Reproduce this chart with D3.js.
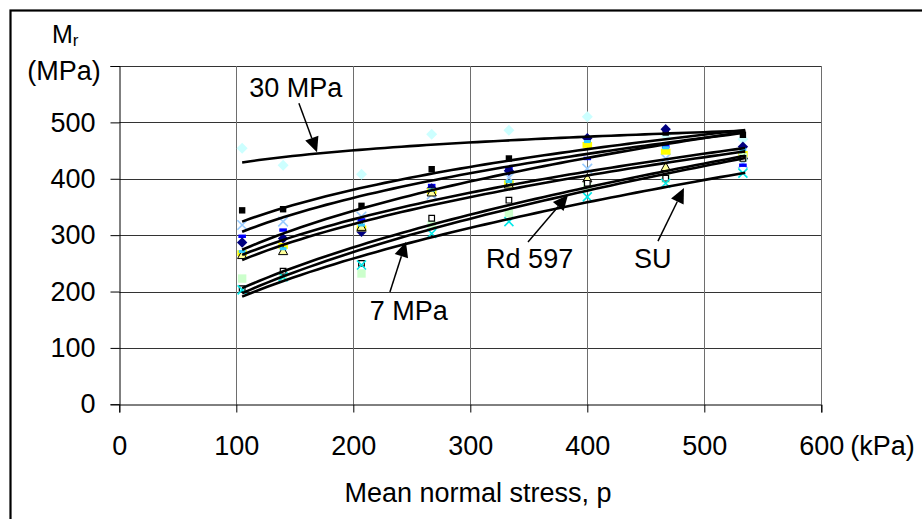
<!DOCTYPE html>
<html>
<head>
<meta charset="utf-8">
<script src="https://cdn.jsdelivr.net/npm/d3@7/dist/d3.min.js"></script>
<style>
  html, body { margin: 0; padding: 0; background: #ffffff; }
  svg text { font-family: "Liberation Sans", Arial, sans-serif; fill: #000; }
</style>
</head>
<body>
<svg id="chart" width="922" height="519"></svg>
<script>
// ---------- data ----------
const stressKPa = [105, 140, 207, 267, 333, 400, 467, 533];

const mpa30Diamond   = [454, 424, 408, 479, 486, 510, 477, 470];
const blackSquare    = [344, 346, 352, 417, 436, 466, 482, 478];
const lightBlueX     = [318, 324, 333, 372, 402, 418, 436, 427];
const blueDash       = [298, 309, 327, 388, 419, 436, 457, 424];
const navyDiamond    = [287, 294, 306, 383, 414, 472, 488, 457];
const yellowSquare   = [268, 281, 312, 378, 392, 460, 448, 444];
const triangleSeries = [265, 272, 315, 376, 390, 401, 421, 442];
const cyanDash       = [271, 276, 318, 380, 395, 466, 455, 452];
const greenSquare    = [223, 228, 232, 318, 339, 385, 400, 438];
const openSquare     = [205, 236, 250, 330, 362, 392, 401, 436];
const cyanX          = [203, 226, 247, 303, 324, 368, 392, 410];

// power-law trend lines: value at first and last stress level
const trendStart = [429, 324, 306, 274, 265, 256, 206, 197, 191];
const trendEnd   = [485, 486, 481, 483, 454, 448, 440, 436, 410];

const yTicks = [0, 100, 200, 300, 400, 500, 600];
const xTicks = [0, 100, 200, 300, 400, 500, 600];

// annotation labels: text, text anchor point, arrow start, arrow tip (data units)
const labelTexts = ["30 MPa", "7 MPa", "Rd 597", "SU"];
const labelPos   = [[111, 545], [214, 149], [313.5, 241], [440, 241]];
const arrowFrom  = [[153.5, 534], [231.3, 199], [349.3, 288], [460.4, 289.5]];
const arrowTo    = [[169, 447], [245, 288], [383.5, 371], [482.6, 383.5]];

// ---------- layout ----------
const svg = d3.select("#chart");
const x = d3.scaleLinear().domain([0, 600]).range([119.3, 821.3]);
const y = d3.scaleLinear().domain([0, 600]).range([404.3, 66]);
const FS = 27;

// outer chart border
svg.append("rect").attr("x", 10.5).attr("y", 10.5)
  .attr("width", 1000).attr("height", 1000)
  .attr("fill", "#fff").attr("stroke", "#000").attr("stroke-width", 2.2);

// gridlines
svg.append("g").selectAll("line").data(yTicks.filter(d => d > 0)).join("line")
  .attr("x1", x(0)).attr("x2", x(600))
  .attr("y1", d => Math.round(y(d)) + 0.5).attr("y2", d => Math.round(y(d)) + 0.5)
  .attr("stroke", "#333").attr("stroke-width", 1);
svg.append("g").selectAll("line").data(xTicks.filter(d => d > 0)).join("line")
  .attr("y1", y(0)).attr("y2", y(600))
  .attr("x1", d => Math.round(x(d)) + 0.5).attr("x2", d => Math.round(x(d)) + 0.5)
  .attr("stroke", "#6e6e6e").attr("stroke-width", 1);

// axes
const yAxis = svg.append("g").attr("transform", `translate(${Math.round(x(0)) + 0.5},0)`)
  .call(d3.axisLeft(y).tickValues(yTicks).tickSize(9).tickPadding(15)
    .tickFormat(d => d === 600 ? "" : d));
const xAxis = svg.append("g").attr("transform", `translate(0,${Math.round(y(0)) + 0.5})`)
  .call(d3.axisBottom(x).tickValues(xTicks).tickSize(8).tickPadding(23)
    .tickFormat(d => d));
[yAxis, xAxis].forEach(g => {
  g.select(".domain").attr("stroke", "#000").attr("stroke-width", 1);
  g.selectAll(".tick line").attr("stroke", "#000").attr("stroke-width", 1);
  g.selectAll(".tick text").attr("font-size", FS)
    .attr("font-family", '"Liberation Sans", Arial, sans-serif').attr("fill", "#000");
});
// units
svg.append("text").attr("x", x(600) + 29).attr("y", y(0) + 31.5).attr("dy", "0.71em")
  .attr("font-size", FS).text("(kPa)");
svg.append("text").attr("x", 64).attr("y", 70).attr("dy", "0.36em")
  .attr("text-anchor", "middle").attr("font-size", FS).text("(MPa)");
const mt = svg.append("text").attr("x", 52).attr("y", 43).attr("font-size", 25);
mt.append("tspan").text("M");
mt.append("tspan").attr("font-size", 17).attr("dy", 3).text("r");
svg.append("text").attr("x", 478).attr("y", 502).attr("text-anchor", "middle")
  .attr("font-size", FS).text("Mean normal stress, p");

// ---------- markers ----------
const diamond = { draw(c, r) { c.moveTo(0, -r); c.lineTo(r, 0); c.lineTo(0, r); c.lineTo(-r, 0); c.closePath(); } };
const square  = { draw(c, r) { c.rect(-r, -r, 2 * r, 2 * r); } };
const rectW   = { draw(c, r) { c.rect(-r, -r * 0.62, 2 * r, r * 1.24); } };
const dash    = { draw(c, r) { c.rect(-r, -r * 0.45, 2 * r, r * 0.9); } };
const cross   = { draw(c, r) { c.moveTo(-r, -r); c.lineTo(r, r); c.moveTo(r, -r); c.lineTo(-r, r); } };
const tri     = { draw(c, r) { c.moveTo(0, -r); c.lineTo(r, r * 0.8); c.lineTo(-r, r * 0.8); c.closePath(); } };

const seriesList = [
  { v: mpa30Diamond,   t: diamond, r: 5.5, fill: "#ccffff", stroke: "none", sw: 0 },
  { v: blackSquare,    t: square,  r: 3.2, fill: "#000000", stroke: "none", sw: 0 },
  { v: lightBlueX,     t: cross,   r: 4.8, fill: "none",    stroke: "#99ccff", sw: 1.6 },
  { v: blueDash,       t: dash,    r: 3.8, fill: "#0000ff", stroke: "none", sw: 0 },
  { v: navyDiamond,    t: diamond, r: 5.2, fill: "#000080", stroke: "none", sw: 0 },
  { v: yellowSquare,   t: rectW,   r: 4.8, fill: "#ffff00", stroke: "none", sw: 0 },
  { v: triangleSeries, t: tri,     r: 4.6, fill: "#ffff99", stroke: "#000", sw: 1 },
  { v: cyanDash,       t: dash,    r: 3.4, fill: "#33ccff", stroke: "none", sw: 0 },
  { v: greenSquare,    t: square,  r: 4.2, fill: "#ccffcc", stroke: "none", sw: 0 },
  { v: openSquare,     t: square,  r: 2.8, fill: "#ffffff", stroke: "#000", sw: 1.2 },
  { v: cyanX,          t: cross,   r: 4.5, fill: "none",    stroke: "#00e8e8", sw: 1.6 }
];
const mg = svg.append("g");
seriesList.forEach(s => {
  mg.append("g").selectAll("path").data(s.v).join("path")
    .attr("transform", (d, i) => `translate(${x(stressKPa[i])},${y(d)})`)
    .attr("d", d3.symbol().type(s.t).size(s.r))
    .attr("fill", s.fill).attr("stroke", s.stroke).attr("stroke-width", s.sw);
});

// ---------- trend lines (power law through the read start/end values) ----------
const p0 = stressKPa[0], p1 = stressKPa[stressKPa.length - 1];
const samples = d3.range(0, 61).map(i => p0 + (p1 - p0 + 2) * i / 60);
const line = d3.line().x(d => x(d[0])).y(d => y(d[1])).curve(d3.curveLinear);
trendStart.forEach((a0, k) => {
  const b = Math.log(trendEnd[k] / a0) / Math.log(p1 / p0);
  const pts = samples.map(p => [p, a0 * Math.pow(p / p0, b)]);
  svg.append("path").attr("d", line(pts)).attr("fill", "none")
    .attr("stroke", "#000").attr("stroke-width", 2.6);
});

// ---------- annotations ----------
labelTexts.forEach((t, i) => {
  svg.append("text").attr("x", x(labelPos[i][0])).attr("y", y(labelPos[i][1]))
    .attr("font-size", FS).text(t);
  const x0 = x(arrowFrom[i][0]), y0 = y(arrowFrom[i][1]);
  const x1 = x(arrowTo[i][0]),   y1 = y(arrowTo[i][1]);
  const ang = Math.atan2(y1 - y0, x1 - x0);
  const L = 15, W = 7;
  const bx = x1 - L * Math.cos(ang), by = y1 - L * Math.sin(ang);
  svg.append("line").attr("x1", x0).attr("y1", y0).attr("x2", bx).attr("y2", by)
    .attr("stroke", "#000").attr("stroke-width", 1.5);
  const hp = d3.path();
  hp.moveTo(x1, y1);
  hp.lineTo(bx + W * Math.sin(ang), by - W * Math.cos(ang));
  hp.lineTo(bx - W * Math.sin(ang), by + W * Math.cos(ang));
  hp.closePath();
  svg.append("path").attr("d", hp.toString()).attr("fill", "#000");
});
</script>
</body>
</html>
